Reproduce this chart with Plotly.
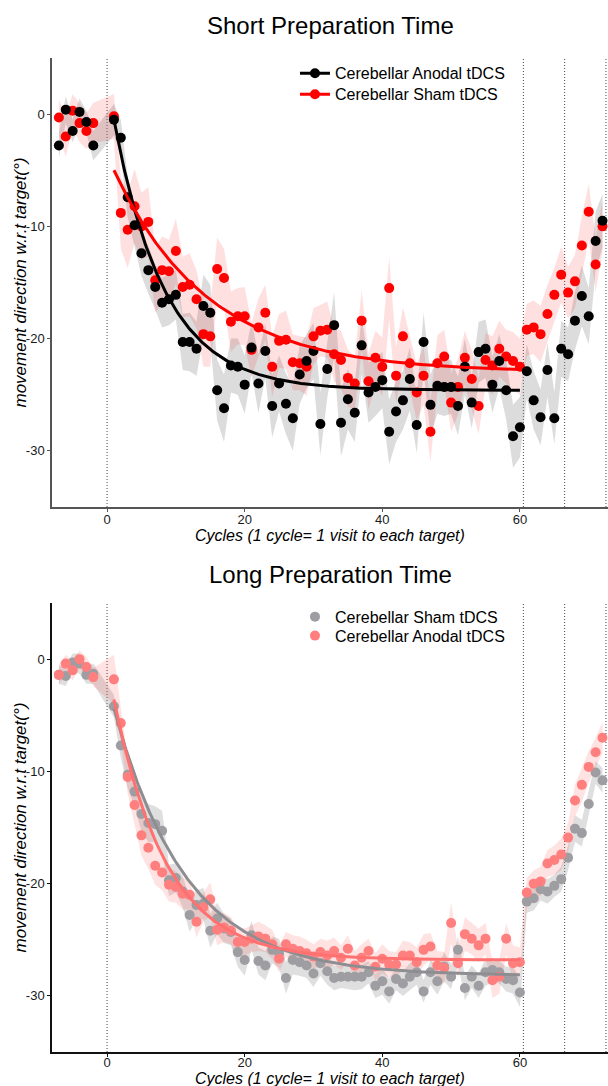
import numpy as np
import plotly.graph_objects as go

# ---------------- data ----------------
baseline_cycles = [-7, -6, -5, -4, -3, -2]
training_cycles = list(range(1, 61))
washout_cycles = list(range(61, 73))
cycles = baseline_cycles + training_cycles + washout_cycles

# Short preparation time
short_anodal = [-2.8, 0.4, -1.5, 0.2, -0.7, -2.8,
                -0.5, -2.1, -7.4, -9.9, -12.4, -13.9, -15.4, -16.8, -16.5, -16.1,
                -20.3, -20.3, -20.9, -17.1, -17.7, -24.6, -26.2, -22.4, -22.5, -24.1,
                -20.8, -24.0, -21.1, -26.0, -24.0, -25.8, -27.1, -23.2, -22.0, -21.1,
                -27.6, -22.7, -18.8, -27.5, -25.4, -26.6, -20.6, -24.8, -24.3, -23.7,
                -28.3, -26.5, -25.5, -23.6, -27.7, -20.3, -25.9, -24.2, -24.3, -24.3,
                -26.0, -22.5, -25.7, -21.2, -20.9, -24.1, -22.0, -24.6, -28.7, -27.9,
                -22.9, -25.5, -27.0, -22.8, -27.1, -20.9, -21.4, -18.4, -16.2, -18.0,
                -11.3, -9.5]
short_anodal_se = [1.1, 1.2, 1.0, 1.2, 1.0, 1.3,
                   1.4, 1.6, 1.8, 1.9, 2.0, 2.1, 2.0, 2.2, 2.3, 2.2,
                   2.5, 2.6, 2.4, 2.8, 2.5, 2.7, 3.0, 2.4, 2.5, 2.6,
                   2.3, 2.6, 2.4, 2.8, 2.5, 2.7, 2.9, 2.6, 2.4, 2.5,
                   2.8, 2.6, 2.9, 3.0, 2.7, 2.6, 2.5, 2.7, 2.6, 2.5,
                   2.9, 2.7, 2.6, 2.8, 2.5, 2.6, 2.7, 2.5, 2.6, 2.4,
                   2.6, 2.5, 2.3, 2.7, 2.6, 2.5, 2.4, 2.6, 2.8, 2.7,
                   2.4, 2.6, 2.5, 2.4, 2.3, 2.5, 2.4, 2.6, 2.7, 2.5,
                   2.6, 2.4]
short_sham = [-0.3, -2.0, 0.3, -0.8, -1.5, -0.8,
              -0.2, -8.8, -10.3, -8.2, -10.0, -9.6, -14.8, -13.9, -14.0, -12.2,
              -15.4, -15.2, -16.5, -19.6, -19.8, -13.8, -14.6, -18.5, -18.0, -18.0,
              -21.0, -19.0, -17.7, -22.5, -20.2, -20.1, -22.1, -22.2, -22.5, -19.8,
              -19.3, -19.2, -21.4, -21.9, -23.5, -24.0, -18.4, -23.8, -21.7, -22.5,
              -15.5, -23.3, -19.8, -22.2, -24.8, -23.3, -28.3, -22.2, -21.6, -25.7,
              -24.3, -21.7, -23.6, -26.0, -21.9, -22.4, -20.9, -21.6, -22.0, -22.5,
              -19.2, -19.0, -19.6, -17.8, -16.1, -14.3, -15.9, -14.9, -11.7, -8.7,
              -13.4, -10.0]
short_sham_se = [1.6, 1.8, 1.5, 1.7, 1.6, 1.8,
                 2.0, 3.2, 3.4, 3.3, 3.0, 3.1, 2.9, 3.0, 2.8, 2.9,
                 2.7, 2.8, 2.6, 2.9, 2.7, 2.8, 2.6, 2.7, 2.5, 2.6,
                 2.4, 2.6, 2.5, 2.7, 2.4, 2.6, 2.5, 2.4, 2.6, 2.5,
                 2.3, 2.5, 2.4, 2.6, 2.5, 2.4, 2.7, 2.5, 2.4, 2.6,
                 2.8, 2.5, 2.6, 2.4, 2.5, 2.6, 2.7, 2.5, 2.4, 2.6,
                 2.5, 2.4, 2.6, 2.5, 2.4, 2.6, 2.5, 2.4, 2.6, 2.5,
                 2.3, 2.4, 2.5, 2.6, 2.4, 2.5, 2.3, 2.4, 2.6, 2.5,
                 2.4, 2.3]

# Long preparation time
long_sham = [-1.4, -1.5, -0.3, -0.4, -1.4, -1.3,
             -4.2, -7.7, -10.3, -11.8, -13.8, -14.6, -14.7, -15.3, -19.7, -19.5,
             -20.7, -22.8, -21.9, -21.8, -24.2, -23.1, -24.0, -24.3, -26.1, -26.8,
             -24.6, -26.9, -27.3, -25.9, -26.2, -28.4, -26.8, -27.0, -27.3, -28.0,
             -27.1, -27.8, -28.4, -28.3, -28.3, -28.3, -28.3, -27.9, -29.1, -28.7,
             -29.6, -28.5, -28.9, -28.3, -27.9, -29.6, -27.9, -28.7, -27.4, -28.3,
             -25.9, -29.3, -28.3, -29.1, -27.9, -27.7, -27.9, -28.5, -28.6, -29.7,
             -21.6, -21.3, -20.5, -20.7, -20.2, -19.6, -17.7, -15.1, -15.5, -12.9,
             -10.1, -10.8]
long_sham_se = [0.8, 0.9, 0.8, 0.9, 0.8, 0.9,
                1.0, 1.1, 1.2, 1.3, 1.6, 1.7, 1.6, 1.8, 1.4, 1.3,
                1.4, 1.5, 1.3, 1.4, 1.5, 1.4, 1.3, 1.2, 1.3, 1.4,
                1.3, 1.2, 1.3, 1.2, 1.3, 1.4, 1.3, 1.2, 1.1, 1.2,
                1.1, 1.2, 1.1, 1.0, 1.1, 1.2, 1.1, 1.0, 1.1, 1.2,
                1.1, 1.0, 1.1, 1.2, 1.1, 1.0, 1.1, 1.2, 1.3, 1.1,
                1.2, 1.1, 1.0, 1.1, 1.2, 1.1, 1.0, 1.1, 1.2, 1.3,
                1.0, 1.1, 1.0, 1.1, 1.0, 1.1, 1.1, 1.2, 1.2, 1.1,
                1.0, 1.1]
long_anodal = [-1.4, -0.4, -1.0, 0.0, -0.7, -1.6,
               -1.8, -5.7, -10.5, -13.0, -15.7, -16.8, -18.4, -19.0, -20.1, -20.3,
               -20.9, -21.0, -23.4, -22.1, -21.4, -24.1, -23.9, -24.2, -25.2, -25.2,
               -24.9, -24.7, -24.9, -25.4, -26.7, -25.4, -25.8, -26.0, -26.2, -26.5,
               -26.1, -26.4, -26.0, -26.6, -25.8, -27.3, -26.6, -26.0, -27.4, -26.7,
               -27.2, -27.2, -26.4, -26.4, -27.0, -25.9, -25.6, -27.3, -27.5, -23.5,
               -27.1, -24.5, -24.9, -25.5, -24.9, -28.6, -28.3, -24.9, -27.1, -27.0,
               -20.8, -20.0, -19.8, -18.2, -17.9, -17.4, -15.9, -12.6, -11.2, -9.6,
               -8.3, -7.0]
long_anodal_se = [0.9, 0.8, 0.9, 0.8, 0.9, 0.8,
                  2.2, 1.6, 1.5, 1.7, 1.8, 1.9, 1.7, 1.6, 1.5, 1.4,
                  1.4, 1.3, 1.4, 1.3, 1.5, 1.4, 1.3, 1.2, 1.3, 1.2,
                  1.2, 1.3, 1.2, 1.3, 1.2, 1.1, 1.2, 1.3, 1.2, 1.1,
                  1.2, 1.3, 1.2, 1.1, 1.2, 1.3, 1.2, 1.1, 1.2, 1.3,
                  1.2, 1.1, 1.3, 1.2, 1.3, 1.4, 1.2, 1.3, 1.4, 1.8,
                  1.3, 1.5, 1.4, 1.5, 1.4, 1.6, 1.5, 1.4, 1.6, 1.3,
                  1.3, 1.2, 1.3, 1.2, 1.3, 1.4, 1.3, 1.4, 1.5, 1.4,
                  1.3, 1.4]

# exponential fits shown in the reference: [value at cycle 1, plateau, rate per cycle]
short_anodal_fit = [-0.5, -24.6, 0.135]
short_sham_fit = [-5.0, -23.0, 0.073]
long_sham_fit = [-4.4, -28.2, 0.095]
long_anodal_fit = [-3.6, -26.8, 0.13]

phase_boundaries = [0, 60.5, 66.5, 72.5]
x_ticks = [0, 20, 40, 60]
y_ticks = [0, -10, -20, -30]
y_tick_labels = ["0", "-10", "-20", "-30"]

FONT = "Liberation Sans, Arial, sans-serif"

fig = go.Figure()


def add_band(values, se, band_color, xa, ya):
    x = np.array(cycles, float)
    y = np.array(values, float)
    s = np.array(se, float)
    fig.add_trace(go.Scatter(
        x=np.concatenate([x, x[::-1]]), y=np.concatenate([y + s, (y - s)[::-1]]),
        fill="toself", fillcolor=band_color, line=dict(width=0), mode="lines",
        hoverinfo="skip", showlegend=False, xaxis=xa, yaxis=ya))


def add_points(values, color, xa, ya):
    fig.add_trace(go.Scatter(
        x=cycles, y=values, mode="markers",
        marker=dict(color=color, size=10, line=dict(width=0)),
        showlegend=False, xaxis=xa, yaxis=ya))


def add_fit(params, color, xa, ya):
    start, plateau, rate = params
    xs = np.linspace(training_cycles[0], training_cycles[-1], 300)
    ys = plateau + (start - plateau) * np.exp(-rate * (xs - training_cycles[0]))
    fig.add_trace(go.Scatter(x=xs, y=ys, mode="lines",
                             line=dict(color=color, width=3),
                             showlegend=False, hoverinfo="skip", xaxis=xa, yaxis=ya))


# ---- top panel (Short Preparation Time) ----
add_band(short_anodal, short_anodal_se, "rgba(150,150,150,0.33)", "x", "y")
add_band(short_sham, short_sham_se, "rgba(255,0,0,0.12)", "x", "y")
add_points(short_sham, "#FF0000", "x", "y")
add_points(short_anodal, "#000000", "x", "y")
add_fit(short_anodal_fit, "#000000", "x", "y")
add_fit(short_sham_fit, "#FF0000", "x", "y")

# ---- bottom panel (Long Preparation Time) ----
PINK = "#FF7F7F"
GRAY = "#9E9EA2"
add_band(long_sham, long_sham_se, "rgba(150,150,150,0.3)", "x2", "y2")
add_band(long_anodal, long_anodal_se, "rgba(255,60,60,0.15)", "x2", "y2")
add_points(long_sham, GRAY, "x2", "y2")
add_points(long_anodal, PINK, "x2", "y2")
add_fit(long_sham_fit, "#8E8E92", "x2", "y2")
add_fit(long_anodal_fit, "#FF7070", "x2", "y2")

# legend entries (one single-item legend each, to control spacing)
legend_items = [
    ("Cerebellar Anodal tDCS", "#000000", "lines+markers", "legend", "x", "y"),
    ("Cerebellar Sham tDCS", "#FF0000", "lines+markers", "legend2", "x", "y"),
    ("Cerebellar Sham tDCS", GRAY, "markers", "legend3", "x2", "y2"),
    ("Cerebellar Anodal tDCS", PINK, "markers", "legend4", "x2", "y2"),
]
for name, color, mode, lg, xa, ya in legend_items:
    fig.add_trace(go.Scatter(x=[None], y=[None], mode=mode, name=name,
                             line=dict(color=color, width=3), marker=dict(color=color, size=10),
                             legend=lg, xaxis=xa, yaxis=ya))

# dotted phase lines
for xa, ya in [("x", "y"), ("x2", "y2")]:
    for b in phase_boundaries:
        fig.add_shape(type="line", x0=b, x1=b, y0=0, y1=1, xref=xa, yref=f"{ya} domain",
                      line=dict(color="#444444", width=1, dash="1px,2px"), layer="below")

top_dom = [0.5483, 1.0]
bot_dom = [0.0, 0.4517]


def xaxis_cfg(anchor, linecolor, standoff):
    return dict(range=[-8, 72.8], tickvals=x_ticks, ticks="outside", ticklen=3,
                tickcolor=linecolor, showline=True, linecolor=linecolor, linewidth=1.5,
                showgrid=False, zeroline=False, anchor=anchor, ticklabelstandoff=standoff,
                tickfont=dict(family=FONT, size=13, color="#1a1a1a"),
                automargin=False)


def yaxis_cfg(anchor, dom, linecolor):
    return dict(range=[-35, 5], tickvals=y_ticks, ticktext=y_tick_labels, ticks="outside",
                ticklen=3, tickcolor=linecolor, showline=True, linecolor=linecolor,
                linewidth=1.5, showgrid=False, zeroline=False, anchor=anchor, domain=dom,
                tickfont=dict(family=FONT, size=13, color="#1a1a1a"),
                automargin=False)


def legend_cfg(y):
    return dict(x=0.437, y=y, xanchor="left", yanchor="middle", bgcolor="rgba(0,0,0,0)",
                font=dict(family=FONT, size=16, color="#000000"))


XTITLE = "Cycles (1 cycle= 1 visit to each target)"
YTITLE = "movement direction w.r.t target(°)"
title_font = dict(family=FONT, size=24, color="#000000")
xt_font = dict(family=FONT, size=16, style="italic", color="#000000")
yt_font = dict(family=FONT, size=17, style="italic", color="#000000")

annotations = [
    dict(text="Short Preparation Time", x=0.5, y=1.033, font=title_font),
    dict(text="Long Preparation Time", x=0.5, y=0.48, font=title_font),
    dict(text=XTITLE, x=0.5, y=0.5201, font=xt_font),
    dict(text=XTITLE, x=0.5, y=-0.0262, font=xt_font),
    dict(text=YTITLE, x=-0.0558, y=0.7741, font=yt_font, textangle=-90),
    dict(text=YTITLE, x=-0.0558, y=0.2258, font=yt_font, textangle=-90),
]
for a in annotations:
    a.update(xref="paper", yref="paper", xanchor="center", yanchor="middle", showarrow=False)

fig.update_layout(
    width=608, height=1086,
    margin=dict(l=52, r=0, t=58, b=34),
    paper_bgcolor="white", plot_bgcolor="white",
    font=dict(family=FONT, color="#000000"),
    xaxis=xaxis_cfg("y", "#555555", -3),
    yaxis=yaxis_cfg("x", top_dom, "#555555"),
    xaxis2=xaxis_cfg("y2", "#111111", -5),
    yaxis2=yaxis_cfg("x2", bot_dom, "#111111"),
    legend=legend_cfg(0.9846),
    legend2=legend_cfg(0.9635),
    legend3=legend_cfg(0.4379),
    legend4=legend_cfg(0.4188),
    annotations=annotations,
    showlegend=True,
)

fig.write_html("out.html")
